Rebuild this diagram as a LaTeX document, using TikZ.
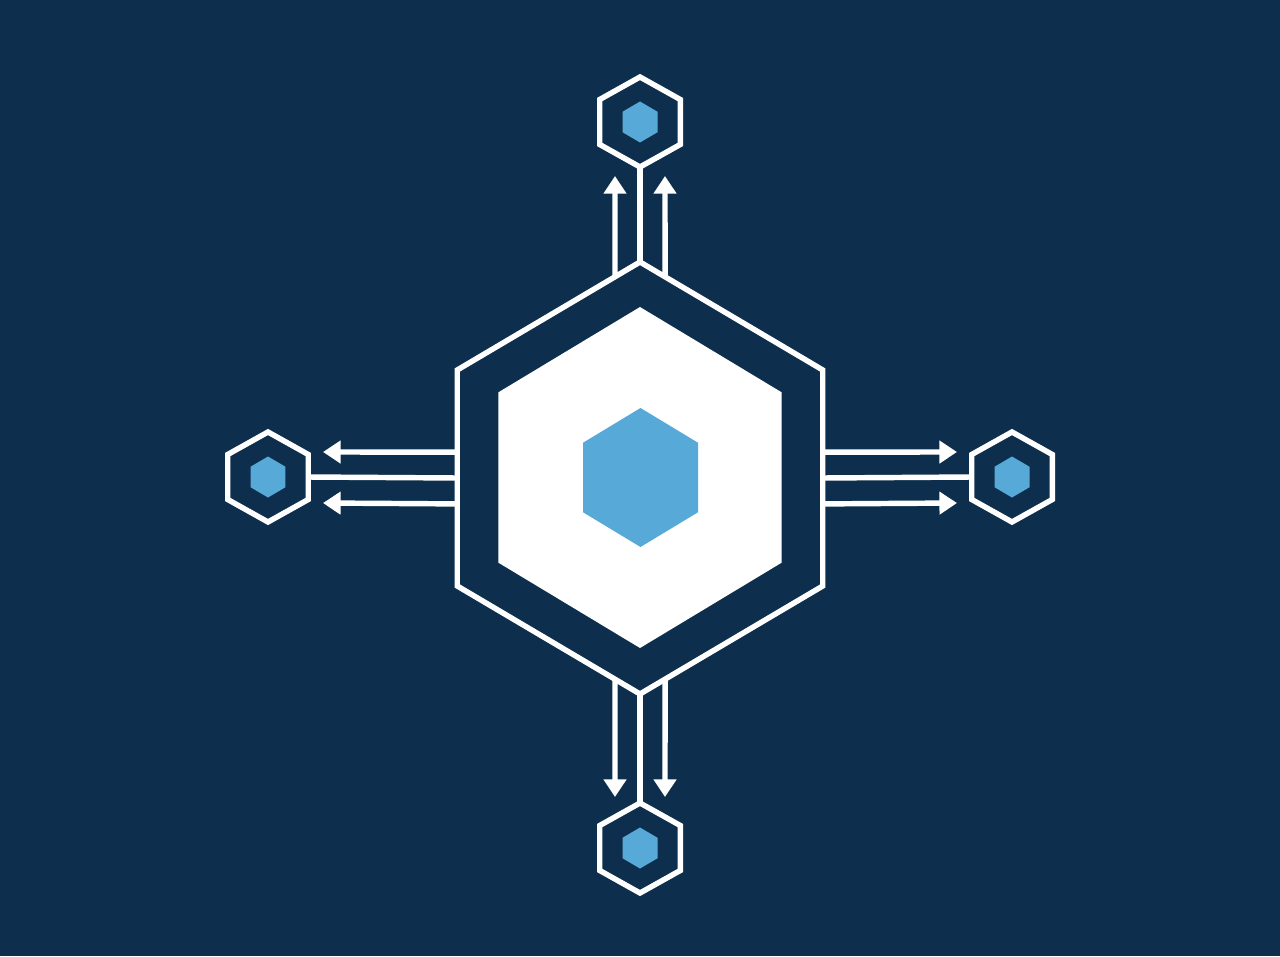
\documentclass[tikz,border=0pt]{standalone}
\usetikzlibrary{calc,arrows.meta}
\definecolor{navy}{RGB}{13,47,77}
\definecolor{cellblue}{RGB}{87,169,215}
\tikzset{
  wire/.style={draw=white,line width=3.1pt},
  flow/.style={wire,-{Triangle[length=10pt,width=12.5pt]}},
  cellframe/.style={draw=white,line width=3.1pt,line join=miter},
  core/.style={fill=cellblue},
  plate/.style={fill=white}
}
% corners of a hexagon: name, centre x, centre y, x radius, y radius
\newcommand{\hexcorners}[5]{%
  \foreach \a/\c in {-90/n,-30/ne,30/se,90/s,150/sw,210/nw}
    \coordinate (#1-\c) at ($(#2,#3)+(\a:#4 and #5)$);
}
\newcommand{\hexpath}[1]{(#1-n) -- (#1-ne) -- (#1-se) -- (#1-s) -- (#1-sw) -- (#1-nw) -- cycle}

\begin{document}
\begin{tikzpicture}[x=0.02cm,y=-0.02cm]
\fill[navy] (0,0) rectangle (1280,956);

% central hub
\hexcorners{hub}{640}{478}{211}{216}
\hexcorners{plate}{640}{477.5}{163.4}{170.5}
\hexcorners{core}{640.5}{477.5}{66.4}{69.5}
\draw[cellframe] \hexpath{hub};
\fill[plate] \hexpath{plate};
\fill[core] \hexpath{core};

% outer cells
\foreach \n/\x/\y in {top/640/122,left/268/477,right/1012/477,bottom/640/848}{
  \hexcorners{\n}{\x}{\y}{46.5}{45}
  \hexcorners{\n in}{\x}{\y}{20.2}{20.5}
  \draw[cellframe] \hexpath{\n};
  \fill[core] \hexpath{\n in};
}

% links hub -- cells
\draw[wire] (hub-n) -- (top-s);
\draw[wire] (hub-s) -- (bottom-n);
\draw[wire] ($(hub-nw)!0.5!(hub-sw)$) -- ($(left-ne)!0.5!(left-se)$);
\draw[wire] ($(hub-ne)!0.5!(hub-se)$) -- ($(right-nw)!0.5!(right-sw)$);

% arrow ends
\coordinate (top-tipl) at (615,176);
\coordinate (top-tipr) at (665,176);
\coordinate (bottom-tipl) at (615,797);
\coordinate (bottom-tipr) at (665,797);
\coordinate (left-tipu) at (323,452);
\coordinate (left-tipd) at (323,503);
\coordinate (right-tipu) at (957,452);
\coordinate (right-tipd) at (957,503);

\draw[flow] ($(hub-n)!0.137!(hub-nw)$) -- (top-tipl);
\draw[flow] ($(hub-n)!0.137!(hub-ne)$) -- (top-tipr);
\draw[flow] ($(hub-s)!0.137!(hub-sw)$) -- (bottom-tipl);
\draw[flow] ($(hub-s)!0.137!(hub-se)$) -- (bottom-tipr);
\draw[flow] ($(hub-nw)!0.38!(hub-sw)$) -- (left-tipu);
\draw[flow] ($(hub-nw)!0.62!(hub-sw)$) -- (left-tipd);
\draw[flow] ($(hub-ne)!0.38!(hub-se)$) -- (right-tipu);
\draw[flow] ($(hub-ne)!0.62!(hub-se)$) -- (right-tipd);
\end{tikzpicture}
\end{document}
